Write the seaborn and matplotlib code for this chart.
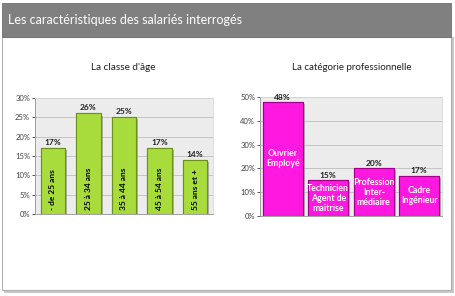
import matplotlib
matplotlib.use("Agg")
import matplotlib.pyplot as plt
import matplotlib.patheffects as pe
from matplotlib.patches import Rectangle
from matplotlib.ticker import PercentFormatter
import seaborn as sns
import pandas as pd

# ---- data ----
title_main = "Les caractéristiques des salariés interrogés"
title_age = "La classe d'âge"
title_cat = "La catégorie professionnelle"

age_labels = ["- de 25 ans", "25 à 34 ans", "35 à 44 ans", "45 à 54 ans", "55 ans et +"]
age_values = [17, 26, 25, 17, 14]

cat_labels = ["Ouvrier\nEmployé", "Technicien\nAgent de\nmaitrise", "Profession\nInter-\nmédiaire", "Cadre\nIngénieur"]
cat_values = [48, 15, 20, 17]

sns.set_theme(style="white")
plt.rcParams['font.family'] = ['Lato', 'DejaVu Sans']

fig = plt.figure(figsize=(4.55, 2.96), dpi=100)
fig.patch.set_facecolor("white")

# panel with shadow
fig.patches.append(Rectangle((4/455, 1 - 293/296), 450/455, 256/296, transform=fig.transFigure,
                             facecolor="#c8c8c8", edgecolor="none", zorder=-3))
fig.patches.append(Rectangle((2/455, 1 - 290/296), 449/455, 253/296, transform=fig.transFigure,
                             facecolor="white", edgecolor="#b0b0b0", linewidth=0.8, zorder=-2))
# title bar
fig.patches.append(Rectangle((2/455, 1 - 37/296), 449/455, 34/296, transform=fig.transFigure,
                             facecolor="#808080", edgecolor="#707070", linewidth=0.6, zorder=1))
fig.text(8/455, 1 - 20/296, title_main, color="white", fontsize=9, ha="left", va="center",
         family=['Lato', 'DejaVu Sans'], zorder=2)

shadow = [pe.withSimplePatchShadow(offset=(1.5, -1.5), shadow_rgbFace="#888888", alpha=0.6), pe.Normal()]

def style_axes(ax, ymax, step):
    ax.set_facecolor("#ececec")
    ax.set_ylim(0, ymax)
    ax.set_yticks(range(0, ymax + 1, step))
    ax.yaxis.set_major_formatter(PercentFormatter(decimals=0))
    ax.tick_params(axis="y", labelsize=5.5, colors="#404040", length=2, width=0.6, pad=1.5, left=True)
    ax.tick_params(axis="x", bottom=False, labelbottom=False)
    ax.set_xlabel("")
    ax.set_ylabel("")
    ax.grid(axis="y", color="#c4c4c4", linewidth=0.7)
    ax.set_axisbelow(True)
    for s in ["top", "right"]:
        ax.spines[s].set_color("#d8d8d8")
        ax.spines[s].set_linewidth(0.6)
    for s in ["left", "bottom"]:
        ax.spines[s].set_color("#909090")
        ax.spines[s].set_linewidth(0.6)

# ---- left chart ----
ax1 = fig.add_axes([35/455, 1 - 214/296, 178/455, 116/296])
df_age = pd.DataFrame({"classe": age_labels, "val": age_values})
sns.barplot(data=df_age, x="classe", y="val", hue="classe", palette=["#a8dc3c"] * len(age_labels),
            saturation=1, width=0.68, edgecolor="#6d8f1e", linewidth=0.8, legend=False, ax=ax1)
style_axes(ax1, 30, 5)
for p in ax1.patches:
    p.set_path_effects(shadow)
for i, (lab, v) in enumerate(zip(age_labels, age_values)):
    ax1.text(i, v + 0.6, f"{v}%", ha="center", va="bottom", fontsize=6, fontweight="bold", color="#202020")
    ax1.text(i, 1.0, lab, rotation=90, ha="center", va="bottom", fontsize=6, fontweight="bold", color="black")
fig.text(123/455, 1 - 68/296, title_age, ha="center", va="center", fontsize=7.2, color="#202020")

# ---- right chart ----
ax2 = fig.add_axes([260/455, 1 - 216/296, 182/455, 119/296])
df_cat = pd.DataFrame({"cat": cat_labels, "val": cat_values})
sns.barplot(data=df_cat, x="cat", y="val", hue="cat", palette=["#ff18e0"] * len(cat_labels),
            saturation=1, width=0.87, edgecolor="#a0008a", linewidth=0.8, legend=False, ax=ax2)
style_axes(ax2, 50, 10)
for p in ax2.patches:
    p.set_path_effects(shadow)
for i, (lab, v) in enumerate(zip(cat_labels, cat_values)):
    ax2.text(i, v + 0.5, f"{v}%", ha="center", va="bottom", fontsize=6, fontweight="bold", color="#202020")
    ax2.text(i, v / 2, lab, ha="center", va="center", fontsize=6.3, fontweight="bold", color="white",
             linespacing=1.15)
fig.text(352/455, 1 - 68/296, title_cat, ha="center", va="center", fontsize=7, color="#202020")

fig.savefig("out.png", dpi=100)
